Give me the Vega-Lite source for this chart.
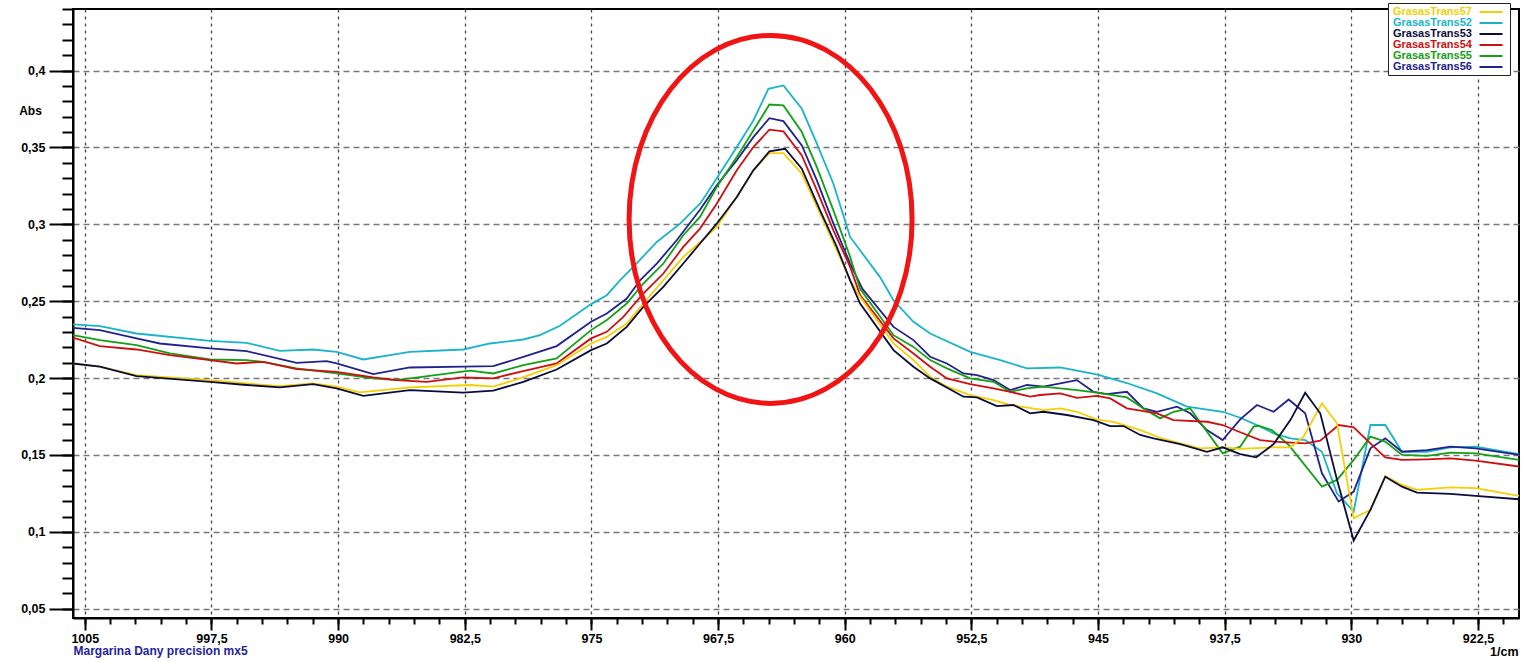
{
  "$schema": "https://vega.github.io/schema/vega-lite/v6.json",
  "width": 1446,
  "height": 609,
  "autosize": {"type": "none"},
  "padding": {"left": 73, "top": 9, "right": 7, "bottom": 44},
  "background": "white",
  "config": {"view": {"stroke": "black", "strokeWidth": 2}, "font": "Liberation Sans"},
  "resolve": {"axis": {"x": "independent", "y": "independent"}},
  "datasets": {
    "spectra": [
      {"series":"GrasasTrans52","x":1005.7,"y":0.2349},{"series":"GrasasTrans52","x":1004.11,"y":0.2338},{"series":"GrasasTrans52","x":1001.94,"y":0.229},{"series":"GrasasTrans52","x":997.59,"y":0.2242},{"series":"GrasasTrans52","x":995.42,"y":0.2229},{"series":"GrasasTrans52","x":993.45,"y":0.2177},{"series":"GrasasTrans52","x":991.49,"y":0.2186},{"series":"GrasasTrans52","x":990.09,"y":0.2171},{"series":"GrasasTrans52","x":988.51,"y":0.2121},{"series":"GrasasTrans52","x":985.75,"y":0.2171},{"series":"GrasasTrans52","x":982.59,"y":0.2186},{"series":"GrasasTrans52","x":981.01,"y":0.2225},{"series":"GrasasTrans52","x":979.03,"y":0.2251},{"series":"GrasasTrans52","x":978.05,"y":0.2279},{"series":"GrasasTrans52","x":976.86,"y":0.234},{"series":"GrasasTrans52","x":975.02,"y":0.2481},{"series":"GrasasTrans52","x":974.09,"y":0.2539},{"series":"GrasasTrans52","x":973.31,"y":0.2636},{"series":"GrasasTrans52","x":972.52,"y":0.2723},{"series":"GrasasTrans52","x":971.13,"y":0.2885},{"series":"GrasasTrans52","x":969.75,"y":0.3004},{"series":"GrasasTrans52","x":968.57,"y":0.3134},{"series":"GrasasTrans52","x":968.17,"y":0.3199},{"series":"GrasasTrans52","x":966.39,"y":0.3502},{"series":"GrasasTrans52","x":965.41,"y":0.3675},{"series":"GrasasTrans52","x":964.52,"y":0.3881},{"series":"GrasasTrans52","x":963.63,"y":0.3903},{"series":"GrasasTrans52","x":962.54,"y":0.3751},{"series":"GrasasTrans52","x":961.65,"y":0.3524},{"series":"GrasasTrans52","x":960.67,"y":0.3264},{"series":"GrasasTrans52","x":959.68,"y":0.2918},{"series":"GrasasTrans52","x":957.9,"y":0.2655},{"series":"GrasasTrans52","x":957.11,"y":0.2506},{"series":"GrasasTrans52","x":955.93,"y":0.2366},{"series":"GrasasTrans52","x":954.94,"y":0.229},{"series":"GrasasTrans52","x":952.57,"y":0.2171},{"series":"GrasasTrans52","x":950.79,"y":0.2117},{"series":"GrasasTrans52","x":949.21,"y":0.2063},{"series":"GrasasTrans52","x":947.24,"y":0.2069},{"series":"GrasasTrans52","x":945.03,"y":0.2022},{"series":"GrasasTrans52","x":943.29,"y":0.1968},{"series":"GrasasTrans52","x":941.51,"y":0.1901},{"series":"GrasasTrans52","x":939.73,"y":0.1814},{"series":"GrasasTrans52","x":937.62,"y":0.1781},{"series":"GrasasTrans52","x":936.58,"y":0.1742},{"series":"GrasasTrans52","x":935.39,"y":0.1684},{"series":"GrasasTrans52","x":934.6,"y":0.1641},{"series":"GrasasTrans52","x":933.61,"y":0.1608},{"series":"GrasasTrans52","x":932.73,"y":0.1597},{"series":"GrasasTrans52","x":931.74,"y":0.1521},{"series":"GrasasTrans52","x":930.85,"y":0.1251},{"series":"GrasasTrans52","x":929.86,"y":0.1132},{"series":"GrasasTrans52","x":928.87,"y":0.1695},{"series":"GrasasTrans52","x":927.99,"y":0.1695},{"series":"GrasasTrans52","x":927.0,"y":0.1521},{"series":"GrasasTrans52","x":925.52,"y":0.1521},{"series":"GrasasTrans52","x":924.13,"y":0.155},{"series":"GrasasTrans52","x":922.64,"y":0.1554},{"series":"GrasasTrans52","x":920.07,"y":0.1506},

      {"series":"GrasasTrans56","x":1005.7,"y":0.2327},{"series":"GrasasTrans56","x":1004.11,"y":0.2312},{"series":"GrasasTrans56","x":1001.94,"y":0.2258},{"series":"GrasasTrans56","x":1000.56,"y":0.2225},{"series":"GrasasTrans56","x":997.59,"y":0.2193},{"series":"GrasasTrans56","x":995.42,"y":0.2175},{"series":"GrasasTrans56","x":992.46,"y":0.2099},{"series":"GrasasTrans56","x":990.68,"y":0.211},{"series":"GrasasTrans56","x":990.09,"y":0.2095},{"series":"GrasasTrans56","x":987.92,"y":0.2026},{"series":"GrasasTrans56","x":985.75,"y":0.2069},{"series":"GrasasTrans56","x":982.59,"y":0.2074},{"series":"GrasasTrans56","x":980.81,"y":0.2078},{"series":"GrasasTrans56","x":979.03,"y":0.2138},{"series":"GrasasTrans56","x":977.06,"y":0.2208},{"series":"GrasasTrans56","x":975.02,"y":0.2366},{"series":"GrasasTrans56","x":974.09,"y":0.242},{"series":"GrasasTrans56","x":972.91,"y":0.2517},{"series":"GrasasTrans56","x":972.12,"y":0.2636},{"series":"GrasasTrans56","x":971.13,"y":0.2745},{"series":"GrasasTrans56","x":969.95,"y":0.2896},{"series":"GrasasTrans56","x":968.57,"y":0.3095},{"series":"GrasasTrans56","x":967.58,"y":0.3253},{"series":"GrasasTrans56","x":966.39,"y":0.3416},{"series":"GrasasTrans56","x":965.41,"y":0.3567},{"series":"GrasasTrans56","x":964.46,"y":0.369},{"series":"GrasasTrans56","x":963.63,"y":0.3671},{"series":"GrasasTrans56","x":962.54,"y":0.3513},{"series":"GrasasTrans56","x":961.65,"y":0.3286},{"series":"GrasasTrans56","x":960.67,"y":0.3004},{"series":"GrasasTrans56","x":959.68,"y":0.2745},{"series":"GrasasTrans56","x":958.95,"y":0.258},{"series":"GrasasTrans56","x":957.11,"y":0.2333},{"series":"GrasasTrans56","x":955.93,"y":0.2247},{"series":"GrasasTrans56","x":954.94,"y":0.2139},{"series":"GrasasTrans56","x":953.95,"y":0.2095},{"series":"GrasasTrans56","x":952.97,"y":0.203},{"series":"GrasasTrans56","x":952.17,"y":0.2019},{"series":"GrasasTrans56","x":951.19,"y":0.1987},{"series":"GrasasTrans56","x":950.2,"y":0.1922},{"series":"GrasasTrans56","x":949.21,"y":0.1955},{"series":"GrasasTrans56","x":948.23,"y":0.1944},{"series":"GrasasTrans56","x":947.24,"y":0.1965},{"series":"GrasasTrans56","x":946.25,"y":0.1987},{"series":"GrasasTrans56","x":945.27,"y":0.1911},{"series":"GrasasTrans56","x":944.48,"y":0.1896},{"series":"GrasasTrans56","x":943.29,"y":0.1911},{"series":"GrasasTrans56","x":942.31,"y":0.1803},{"series":"GrasasTrans56","x":941.51,"y":0.1781},{"series":"GrasasTrans56","x":940.33,"y":0.1814},{"series":"GrasasTrans56","x":939.54,"y":0.1771},{"series":"GrasasTrans56","x":938.55,"y":0.1662},{"series":"GrasasTrans56","x":937.62,"y":0.1597},{"series":"GrasasTrans56","x":936.58,"y":0.1732},{"series":"GrasasTrans56","x":935.59,"y":0.1825},{"series":"GrasasTrans56","x":934.6,"y":0.1781},{"series":"GrasasTrans56","x":933.71,"y":0.1861},{"series":"GrasasTrans56","x":932.73,"y":0.1771},{"series":"GrasasTrans56","x":931.74,"y":0.1381},{"series":"GrasasTrans56","x":930.75,"y":0.1197},{"series":"GrasasTrans56","x":929.86,"y":0.1262},{"series":"GrasasTrans56","x":928.87,"y":0.1543},{"series":"GrasasTrans56","x":927.99,"y":0.1608},{"series":"GrasasTrans56","x":927.0,"y":0.1521},{"series":"GrasasTrans56","x":925.52,"y":0.1532},{"series":"GrasasTrans56","x":924.13,"y":0.1554},{"series":"GrasasTrans56","x":922.64,"y":0.1543},{"series":"GrasasTrans56","x":920.07,"y":0.15},

      {"series":"GrasasTrans55","x":1005.7,"y":0.2279},{"series":"GrasasTrans55","x":1004.11,"y":0.2247},{"series":"GrasasTrans55","x":1001.94,"y":0.2214},{"series":"GrasasTrans55","x":999.96,"y":0.216},{"series":"GrasasTrans55","x":997.59,"y":0.2121},{"series":"GrasasTrans55","x":995.42,"y":0.2117},{"series":"GrasasTrans55","x":994.44,"y":0.2106},{"series":"GrasasTrans55","x":992.46,"y":0.2063},{"series":"GrasasTrans55","x":990.09,"y":0.203},{"series":"GrasasTrans55","x":987.92,"y":0.1998},{"series":"GrasasTrans55","x":986.53,"y":0.1987},{"series":"GrasasTrans55","x":982.19,"y":0.2048},{"series":"GrasasTrans55","x":980.81,"y":0.203},{"series":"GrasasTrans55","x":979.03,"y":0.2084},{"series":"GrasasTrans55","x":977.06,"y":0.2128},{"series":"GrasasTrans55","x":975.02,"y":0.2312},{"series":"GrasasTrans55","x":974.09,"y":0.2377},{"series":"GrasasTrans55","x":972.91,"y":0.2485},{"series":"GrasasTrans55","x":971.93,"y":0.2615},{"series":"GrasasTrans55","x":970.74,"y":0.2745},{"series":"GrasasTrans55","x":969.56,"y":0.2929},{"series":"GrasasTrans55","x":968.57,"y":0.3048},{"series":"GrasasTrans55","x":967.58,"y":0.3242},{"series":"GrasasTrans55","x":966.39,"y":0.3437},{"series":"GrasasTrans55","x":965.41,"y":0.361},{"series":"GrasasTrans55","x":964.46,"y":0.3779},{"series":"GrasasTrans55","x":963.63,"y":0.3773},{"series":"GrasasTrans55","x":962.54,"y":0.36},{"series":"GrasasTrans55","x":961.65,"y":0.3372},{"series":"GrasasTrans55","x":960.67,"y":0.3091},{"series":"GrasasTrans55","x":959.68,"y":0.2788},{"series":"GrasasTrans55","x":959.09,"y":0.258},{"series":"GrasasTrans55","x":957.11,"y":0.2279},{"series":"GrasasTrans55","x":955.93,"y":0.2203},{"series":"GrasasTrans55","x":954.94,"y":0.2117},{"series":"GrasasTrans55","x":953.95,"y":0.2063},{"series":"GrasasTrans55","x":952.57,"y":0.1998},{"series":"GrasasTrans55","x":951.19,"y":0.1976},{"series":"GrasasTrans55","x":950.2,"y":0.1911},{"series":"GrasasTrans55","x":949.21,"y":0.1933},{"series":"GrasasTrans55","x":948.23,"y":0.1944},{"series":"GrasasTrans55","x":946.25,"y":0.1922},{"series":"GrasasTrans55","x":945.07,"y":0.1906},{"series":"GrasasTrans55","x":943.29,"y":0.1874},{"series":"GrasasTrans55","x":942.31,"y":0.1803},{"series":"GrasasTrans55","x":941.32,"y":0.1738},{"series":"GrasasTrans55","x":940.53,"y":0.1781},{"series":"GrasasTrans55","x":939.54,"y":0.1803},{"series":"GrasasTrans55","x":937.62,"y":0.1511},{"series":"GrasasTrans55","x":936.58,"y":0.1554},{"series":"GrasasTrans55","x":935.79,"y":0.1684},{"series":"GrasasTrans55","x":935.5,"y":0.169},{"series":"GrasasTrans55","x":934.7,"y":0.1662},{"series":"GrasasTrans55","x":933.71,"y":0.1565},{"series":"GrasasTrans55","x":931.74,"y":0.1294},{"series":"GrasasTrans55","x":930.85,"y":0.1338},{"series":"GrasasTrans55","x":929.86,"y":0.1468},{"series":"GrasasTrans55","x":928.87,"y":0.1619},{"series":"GrasasTrans55","x":927.99,"y":0.1587},{"series":"GrasasTrans55","x":927.0,"y":0.15},{"series":"GrasasTrans55","x":925.52,"y":0.1494},{"series":"GrasasTrans55","x":924.13,"y":0.1515},{"series":"GrasasTrans55","x":922.64,"y":0.1511},{"series":"GrasasTrans55","x":920.07,"y":0.1468},

      {"series":"GrasasTrans54","x":1005.7,"y":0.2264},{"series":"GrasasTrans54","x":1004.11,"y":0.2208},{"series":"GrasasTrans54","x":1001.94,"y":0.2186},{"series":"GrasasTrans54","x":999.96,"y":0.2149},{"series":"GrasasTrans54","x":997.59,"y":0.2117},{"series":"GrasasTrans54","x":996.01,"y":0.2095},{"series":"GrasasTrans54","x":994.44,"y":0.2106},{"series":"GrasasTrans54","x":992.46,"y":0.2058},{"series":"GrasasTrans54","x":990.09,"y":0.2041},{"series":"GrasasTrans54","x":987.92,"y":0.2004},{"series":"GrasasTrans54","x":986.53,"y":0.1987},{"series":"GrasasTrans54","x":984.76,"y":0.1976},{"series":"GrasasTrans54","x":982.59,"y":0.2004},{"series":"GrasasTrans54","x":980.81,"y":0.1998},{"series":"GrasasTrans54","x":979.23,"y":0.2041},{"series":"GrasasTrans54","x":977.06,"y":0.2095},{"series":"GrasasTrans54","x":975.02,"y":0.2258},{"series":"GrasasTrans54","x":974.09,"y":0.2301},{"series":"GrasasTrans54","x":973.11,"y":0.2398},{"series":"GrasasTrans54","x":971.93,"y":0.255},{"series":"GrasasTrans54","x":970.74,"y":0.268},{"series":"GrasasTrans54","x":969.56,"y":0.2853},{"series":"GrasasTrans54","x":968.57,"y":0.2972},{"series":"GrasasTrans54","x":967.58,"y":0.3134},{"series":"GrasasTrans54","x":966.39,"y":0.3351},{"series":"GrasasTrans54","x":965.41,"y":0.3502},{"series":"GrasasTrans54","x":964.46,"y":0.3615},{"series":"GrasasTrans54","x":963.63,"y":0.3604},{"series":"GrasasTrans54","x":962.54,"y":0.3448},{"series":"GrasasTrans54","x":961.65,"y":0.3221},{"series":"GrasasTrans54","x":960.67,"y":0.2961},{"series":"GrasasTrans54","x":959.68,"y":0.2723},{"series":"GrasasTrans54","x":959.09,"y":0.254},{"series":"GrasasTrans54","x":957.11,"y":0.2258},{"series":"GrasasTrans54","x":955.93,"y":0.216},{"series":"GrasasTrans54","x":954.94,"y":0.2074},{"series":"GrasasTrans54","x":953.95,"y":0.1998},{"series":"GrasasTrans54","x":952.57,"y":0.1961},{"series":"GrasasTrans54","x":951.19,"y":0.1933},{"series":"GrasasTrans54","x":950.2,"y":0.1911},{"series":"GrasasTrans54","x":949.02,"y":0.1879},{"series":"GrasasTrans54","x":948.42,"y":0.189},{"series":"GrasasTrans54","x":947.24,"y":0.1901},{"series":"GrasasTrans54","x":946.25,"y":0.1871},{"series":"GrasasTrans54","x":945.07,"y":0.1884},{"series":"GrasasTrans54","x":944.28,"y":0.1868},{"series":"GrasasTrans54","x":943.29,"y":0.1803},{"series":"GrasasTrans54","x":941.51,"y":0.1771},{"series":"GrasasTrans54","x":940.53,"y":0.1727},{"series":"GrasasTrans54","x":938.55,"y":0.1716},{"series":"GrasasTrans54","x":937.62,"y":0.1695},{"series":"GrasasTrans54","x":936.58,"y":0.1648},{"series":"GrasasTrans54","x":935.39,"y":0.1597},{"series":"GrasasTrans54","x":934.6,"y":0.1587},{"series":"GrasasTrans54","x":932.73,"y":0.1576},{"series":"GrasasTrans54","x":931.84,"y":0.1593},{"series":"GrasasTrans54","x":930.75,"y":0.1695},{"series":"GrasasTrans54","x":929.86,"y":0.168},{"series":"GrasasTrans54","x":928.87,"y":0.1576},{"series":"GrasasTrans54","x":927.99,"y":0.1485},{"series":"GrasasTrans54","x":927.0,"y":0.1468},{"series":"GrasasTrans54","x":925.52,"y":0.1472},{"series":"GrasasTrans54","x":924.13,"y":0.1478},{"series":"GrasasTrans54","x":922.64,"y":0.1463},{"series":"GrasasTrans54","x":920.07,"y":0.1425},

      {"series":"GrasasTrans57","x":1005.7,"y":0.2095},{"series":"GrasasTrans57","x":1004.11,"y":0.2074},{"series":"GrasasTrans57","x":1001.94,"y":0.2019},{"series":"GrasasTrans57","x":997.59,"y":0.1987},{"series":"GrasasTrans57","x":995.42,"y":0.1965},{"series":"GrasasTrans57","x":993.45,"y":0.1948},{"series":"GrasasTrans57","x":991.49,"y":0.1965},{"series":"GrasasTrans57","x":990.09,"y":0.1944},{"series":"GrasasTrans57","x":988.71,"y":0.1907},{"series":"GrasasTrans57","x":985.75,"y":0.1939},{"series":"GrasasTrans57","x":982.19,"y":0.1955},{"series":"GrasasTrans57","x":980.81,"y":0.1944},{"series":"GrasasTrans57","x":979.23,"y":0.1998},{"series":"GrasasTrans57","x":977.06,"y":0.2084},{"series":"GrasasTrans57","x":975.02,"y":0.2225},{"series":"GrasasTrans57","x":974.09,"y":0.2268},{"series":"GrasasTrans57","x":972.91,"y":0.2355},{"series":"GrasasTrans57","x":971.93,"y":0.2485},{"series":"GrasasTrans57","x":970.74,"y":0.2636},{"series":"GrasasTrans57","x":969.56,"y":0.2788},{"series":"GrasasTrans57","x":968.5,"y":0.289},{"series":"GrasasTrans57","x":967.58,"y":0.2983},{"series":"GrasasTrans57","x":966.39,"y":0.3177},{"series":"GrasasTrans57","x":965.41,"y":0.3351},{"series":"GrasasTrans57","x":964.46,"y":0.3463},{"series":"GrasasTrans57","x":963.63,"y":0.3463},{"series":"GrasasTrans57","x":962.54,"y":0.3329},{"series":"GrasasTrans57","x":961.46,"y":0.3069},{"series":"GrasasTrans57","x":960.47,"y":0.2831},{"series":"GrasasTrans57","x":959.68,"y":0.2636},{"series":"GrasasTrans57","x":959.09,"y":0.2528},{"series":"GrasasTrans57","x":957.11,"y":0.2225},{"series":"GrasasTrans57","x":955.93,"y":0.2117},{"series":"GrasasTrans57","x":954.94,"y":0.2009},{"series":"GrasasTrans57","x":953.95,"y":0.1944},{"series":"GrasasTrans57","x":952.57,"y":0.189},{"series":"GrasasTrans57","x":951.19,"y":0.1857},{"series":"GrasasTrans57","x":950.2,"y":0.1825},{"series":"GrasasTrans57","x":948.23,"y":0.1792},{"series":"GrasasTrans57","x":947.24,"y":0.1803},{"series":"GrasasTrans57","x":946.25,"y":0.1781},{"series":"GrasasTrans57","x":945.07,"y":0.173},{"series":"GrasasTrans57","x":944.08,"y":0.1716},{"series":"GrasasTrans57","x":942.5,"y":0.1662},{"series":"GrasasTrans57","x":941.32,"y":0.1612},{"series":"GrasasTrans57","x":940.13,"y":0.1575},{"series":"GrasasTrans57","x":938.95,"y":0.1543},{"series":"GrasasTrans57","x":937.62,"y":0.155},{"series":"GrasasTrans57","x":936.58,"y":0.154},{"series":"GrasasTrans57","x":934.6,"y":0.155},{"series":"GrasasTrans57","x":933.61,"y":0.155},{"series":"GrasasTrans57","x":932.83,"y":0.1619},{"series":"GrasasTrans57","x":931.74,"y":0.1836},{"series":"GrasasTrans57","x":930.85,"y":0.1706},{"series":"GrasasTrans57","x":930.26,"y":0.1338},{"series":"GrasasTrans57","x":929.86,"y":0.1089},{"series":"GrasasTrans57","x":928.87,"y":0.1143},{"series":"GrasasTrans57","x":927.99,"y":0.1364},{"series":"GrasasTrans57","x":927.0,"y":0.1305},{"series":"GrasasTrans57","x":926.11,"y":0.1273},{"series":"GrasasTrans57","x":924.13,"y":0.129},{"series":"GrasasTrans57","x":922.64,"y":0.1284},{"series":"GrasasTrans57","x":920.07,"y":0.1234},

      {"series":"GrasasTrans53","x":1005.7,"y":0.2095},{"series":"GrasasTrans53","x":1004.11,"y":0.2074},{"series":"GrasasTrans53","x":1001.94,"y":0.2013},{"series":"GrasasTrans53","x":997.59,"y":0.1976},{"series":"GrasasTrans53","x":995.42,"y":0.1955},{"series":"GrasasTrans53","x":993.45,"y":0.194},{"series":"GrasasTrans53","x":991.49,"y":0.1961},{"series":"GrasasTrans53","x":990.09,"y":0.1933},{"series":"GrasasTrans53","x":988.51,"y":0.1885},{"series":"GrasasTrans53","x":985.75,"y":0.1922},{"series":"GrasasTrans53","x":982.59,"y":0.1905},{"series":"GrasasTrans53","x":980.81,"y":0.1918},{"series":"GrasasTrans53","x":979.03,"y":0.1976},{"series":"GrasasTrans53","x":977.06,"y":0.2056},{"series":"GrasasTrans53","x":975.02,"y":0.2182},{"series":"GrasasTrans53","x":974.09,"y":0.2225},{"series":"GrasasTrans53","x":972.91,"y":0.2333},{"series":"GrasasTrans53","x":971.93,"y":0.2463},{"series":"GrasasTrans53","x":970.74,"y":0.2593},{"series":"GrasasTrans53","x":969.56,"y":0.2745},{"series":"GrasasTrans53","x":968.57,"y":0.2875},{"series":"GrasasTrans53","x":967.58,"y":0.3004},{"series":"GrasasTrans53","x":966.39,"y":0.3177},{"series":"GrasasTrans53","x":965.41,"y":0.3351},{"series":"GrasasTrans53","x":964.46,"y":0.3474},{"series":"GrasasTrans53","x":963.53,"y":0.3491},{"series":"GrasasTrans53","x":962.54,"y":0.3362},{"series":"GrasasTrans53","x":961.46,"y":0.3091},{"series":"GrasasTrans53","x":960.47,"y":0.2853},{"series":"GrasasTrans53","x":959.68,"y":0.2636},{"series":"GrasasTrans53","x":959.09,"y":0.2485},{"series":"GrasasTrans53","x":957.11,"y":0.2182},{"series":"GrasasTrans53","x":955.93,"y":0.2074},{"series":"GrasasTrans53","x":954.94,"y":0.1998},{"series":"GrasasTrans53","x":952.97,"y":0.1879},{"series":"GrasasTrans53","x":952.17,"y":0.1874},{"series":"GrasasTrans53","x":950.99,"y":0.1818},{"series":"GrasasTrans53","x":950.01,"y":0.1825},{"series":"GrasasTrans53","x":949.02,"y":0.1771},{"series":"GrasasTrans53","x":948.23,"y":0.1781},{"series":"GrasasTrans53","x":946.84,"y":0.176},{"series":"GrasasTrans53","x":945.27,"y":0.1727},{"series":"GrasasTrans53","x":944.28,"y":0.1688},{"series":"GrasasTrans53","x":943.49,"y":0.1688},{"series":"GrasasTrans53","x":942.5,"y":0.163},{"series":"GrasasTrans53","x":941.71,"y":0.1608},{"series":"GrasasTrans53","x":940.13,"y":0.1571},{"series":"GrasasTrans53","x":938.55,"y":0.1521},{"series":"GrasasTrans53","x":937.62,"y":0.155},{"series":"GrasasTrans53","x":936.58,"y":0.1506},{"series":"GrasasTrans53","x":935.63,"y":0.1485},{"series":"GrasasTrans53","x":934.6,"y":0.1571},{"series":"GrasasTrans53","x":933.61,"y":0.1727},{"series":"GrasasTrans53","x":932.73,"y":0.1905},{"series":"GrasasTrans53","x":931.84,"y":0.1771},{"series":"GrasasTrans53","x":930.85,"y":0.134},{"series":"GrasasTrans53","x":929.86,"y":0.0944},{"series":"GrasasTrans53","x":928.87,"y":0.1143},{"series":"GrasasTrans53","x":927.99,"y":0.1359},{"series":"GrasasTrans53","x":927.0,"y":0.1294},{"series":"GrasasTrans53","x":926.11,"y":0.1255},{"series":"GrasasTrans53","x":924.13,"y":0.1247},{"series":"GrasasTrans53","x":922.64,"y":0.1234},{"series":"GrasasTrans53","x":920.07,"y":0.1212}
    ],
    "marker": [{"x": 964.39, "y": 0.3032}]
  },
  "layer": [
    {
      "data": {"name": "spectra"},
      "mark": {"type": "line", "strokeWidth": 1.8, "clip": true},
      "encoding": {
        "x": {
          "field": "x", "type": "quantitative",
          "scale": {"domain": [920.07, 1005.7], "reverse": true, "nice": false, "zero": false},
          "axis": {
            "orient": "bottom",
            "values": [1005, 997.5, 990, 982.5, 975, 967.5, 960, 952.5, 945, 937.5, 930, 922.5],
            "labelExpr": "replace(format(datum.value, '~f'), '.', ',')",
            "tickSize": 12, "tickWidth": 2, "tickColor": "black",
            "domainColor": "black", "domainWidth": 2,
            "grid": true, "gridColor": "#444444", "gridDash": [3, 4], "gridWidth": 1.3,
            "labelFont": "Liberation Sans", "labelFontWeight": "bold", "labelFontSize": 12.5, "labelColor": "black",
            "labelPadding": 2, "labelFlush": false, "labelOverlap": false,
            "title": "1/cm", "titleX": 1445, "titleY": 33, "titleAlign": "right", "titleBaseline": "middle",
            "titleFont": "Liberation Sans", "titleFontWeight": "bold", "titleFontSize": 12.5, "titleColor": "black"
          }
        },
        "y": {
          "field": "y", "type": "quantitative",
          "scale": {"domain": [0.044, 0.44], "nice": false, "zero": false},
          "axis": {
            "orient": "left",
            "values": [0.05, 0.1, 0.15, 0.2, 0.25, 0.3, 0.35, 0.4],
            "labelExpr": "replace(format(datum.value, '~f'), '.', ',')",
            "tickSize": 24, "tickWidth": 2, "tickColor": "black",
            "domainColor": "black", "domainWidth": 2,
            "grid": true, "gridColor": "#777777", "gridDash": [6, 4], "gridWidth": 1.3,
            "labelFont": "Liberation Sans", "labelFontWeight": "bold", "labelFontSize": 12.5, "labelColor": "black",
            "labelPadding": 4,
            "title": "Abs", "titleAngle": 0, "titleX": -43, "titleY": 101, "titleAlign": "center", "titleBaseline": "middle",
            "titleFont": "Liberation Sans", "titleFontWeight": "bold", "titleFontSize": 12, "titleColor": "black"
          }
        },
        "color": {
          "field": "series", "type": "nominal",
          "scale": {
            "domain": ["GrasasTrans57", "GrasasTrans52", "GrasasTrans53", "GrasasTrans54", "GrasasTrans55", "GrasasTrans56"],
            "range": ["#f5cf00", "#1ab4c8", "#0c0c3c", "#cc1010", "#14a014", "#22228c"]
          },
          "legend": {
            "orient": "none", "legendX": 1315, "legendY": -6,
            "title": null, "padding": 3,
            "fillColor": "white", "strokeColor": "#222222",
            "symbolType": "M-2.3,0H2.3", "symbolSize": 100, "symbolStrokeWidth": 2,
            "labelAlign": "left", "labelOffset": -10,
            "labelFont": "Liberation Sans", "labelFontSize": 11, "labelFontWeight": "bold",
            "rowPadding": -1,
            "encode": {
              "labels": {"update": {"fill": {"scale": "color", "field": "value"}}},
              "symbols": {"update": {"x": {"value": 100}}}
            }
          }
        }
      }
    },
    {
      "data": {"name": "marker"},
      "mark": {
        "type": "point",
        "shape": "M -0.769 0 A 0.769 1 0 1 1 0.769 0 A 0.769 1 0 1 1 -0.769 0 Z",
        "size": 135424, "filled": false, "stroke": "#f01414", "strokeWidth": 5, "opacity": 1
      },
      "encoding": {
        "x": {
          "field": "x", "type": "quantitative",
          "scale": {"domain": [920.07, 1005.7], "reverse": true, "nice": false, "zero": false},
          "axis": {
            "orient": "bottom",
            "values": [1005,1003.5,1002,1000.5,999,997.5,996,994.5,993,991.5,990,988.5,987,985.5,984,982.5,981,979.5,978,976.5,975,973.5,972,970.5,969,967.5,966,964.5,963,961.5,960,958.5,957,955.5,954,952.5,951,949.5,948,946.5,945,943.5,942,940.5,939,937.5,936,934.5,933,931.5,930,928.5,927,925.5,924,922.5,921],
            "labels": false, "tickSize": 6, "tickWidth": 2, "tickColor": "black",
            "domain": false, "grid": false,
            "title": "Margarina Dany precision mx5", "titleX": 0, "titleY": 32, "titleAlign": "left", "titleBaseline": "middle",
            "titleFont": "Liberation Sans", "titleFontWeight": "bold", "titleFontSize": 12, "titleColor": "#1f1f9e"
          }
        },
        "y": {
          "field": "y", "type": "quantitative",
          "scale": {"domain": [0.044, 0.44], "nice": false, "zero": false},
          "axis": {
            "orient": "left",
            "values": [0.05,0.06,0.07,0.08,0.09,0.1,0.11,0.12,0.13,0.14,0.15,0.16,0.17,0.18,0.19,0.2,0.21,0.22,0.23,0.24,0.25,0.26,0.27,0.28,0.29,0.3,0.31,0.32,0.33,0.34,0.35,0.36,0.37,0.38,0.39,0.4,0.41,0.42,0.43,0.44],
            "labels": false, "tickSize": 11, "tickWidth": 2, "tickColor": "black",
            "domain": false, "grid": false, "title": null
          }
        }
      }
    }
  ]
}
